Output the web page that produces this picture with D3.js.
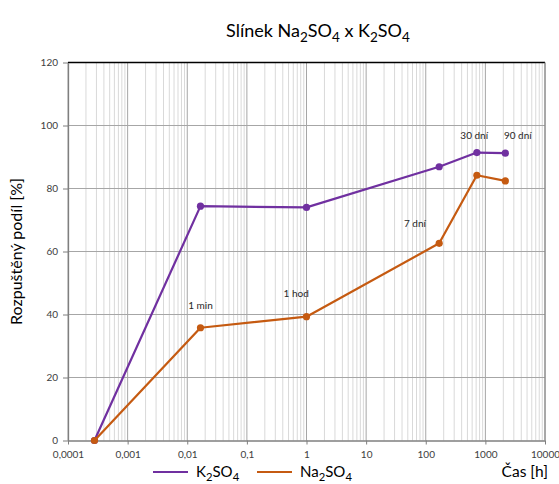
<!DOCTYPE html>
<html>
<head>
<meta charset="utf-8">
<script src="https://cdn.jsdelivr.net/npm/d3@7"></script>
<style>
  body { margin: 0; background: #fff; }
  svg { font-family: Lato, "Open Sans", sans-serif; }
</style>
</head>
<body>
<svg id="chart" width="559" height="484"></svg>
<script>
// time in hours: 1 s, 1 min, 1 h, 7 days, 30 days, 90 days
const hours = [1 / 3600, 1 / 60, 1, 168, 720, 2160]
const k2so4 = [0, 74.4, 74.0, 86.9, 91.4, 91.2]
const na2so4 = [0, 35.8, 39.3, 62.6, 84.2, 82.4]
const xTicks = [0.0001, 0.001, 0.01, 0.1, 1, 10, 100, 1000, 10000]
const xTickLabels = ['0,0001', '0,001', '0,01', '0,1', '1', '10', '100', '1000', '10000']
const yTicks = [0, 20, 40, 60, 80, 100, 120]
const notes = [
    { text: '1 min', t: 1 / 60, v: 42.5 },
    { text: '1 hod', t: 0.67, v: 46.5 },
    { text: '7 dní', t: 66, v: 68.5 },
    { text: '30 dní', t: 650, v: 96.5 },
    { text: '90 dní', t: 3500, v: 96.5 }
]
const series = [
    { name: 'K2SO4', values: k2so4, color: '#7030a0' },
    { name: 'Na2SO4', values: na2so4, color: '#c55a11' }
]

const svg = d3.select('#chart')
const plotLeft = 68, plotRight = 545, plotTop = 62.5, plotBottom = 440.5
const x = d3.scaleLog().domain([1e-4, 1e4]).range([plotLeft, plotRight])
const y = d3.scaleLinear().domain([0, 120]).range([plotBottom, plotTop])

// write digits of formulas as subscripts
function formula(sel, str, size) {
    let shift = 0
    str.split(/(\d+)/).forEach(part => {
        if (part === '') return
        let sub = /^\d+$/.test(part)
        let target = sub ? size * 0.25 : 0
        sel.append('tspan')
            .attr('dy', target - shift)
            .attr('font-size', sub ? size * 0.75 : size)
            .text(part)
        shift = target
    })
}

// minor vertical grid
let minor = []
for (let e = -4; e < 4; e++) {
    for (let k = 2; k <= 9; k++) minor.push(k * Math.pow(10, e))
}
svg.append('g').selectAll('line').data(minor).join('line')
    .attr('x1', d => x(d)).attr('x2', d => x(d))
    .attr('y1', plotTop).attr('y2', plotBottom)
    .attr('stroke', '#d9d9d9').attr('stroke-width', 1)

svg.append('g').selectAll('line').data(xTicks).join('line')
    .attr('x1', d => x(d)).attr('x2', d => x(d))
    .attr('y1', plotTop).attr('y2', plotBottom)
    .attr('stroke', '#a6a6a6').attr('stroke-width', 1)

svg.append('g').selectAll('line').data(yTicks.slice(1)).join('line')
    .attr('x1', plotLeft).attr('x2', plotRight)
    .attr('y1', d => y(d)).attr('y2', d => y(d))
    .attr('stroke', '#a6a6a6').attr('stroke-width', 1)

// plot frame
svg.append('line').attr('x1', plotLeft).attr('x2', plotRight).attr('y1', plotTop).attr('y2', plotTop)
    .attr('stroke', '#000').attr('stroke-width', 1.3)
svg.append('line').attr('x1', plotRight).attr('x2', plotRight).attr('y1', plotTop).attr('y2', plotBottom)
    .attr('stroke', '#7f7f7f').attr('stroke-width', 1)

// axes
const xAxis = svg.append('g').attr('transform', `translate(0,${plotBottom})`)
    .call(d3.axisBottom(x).tickValues(xTicks).tickFormat((d, i) => xTickLabels[i]).tickSize(4).tickSizeOuter(0))
const yAxis = svg.append('g').attr('transform', `translate(${plotLeft},0)`)
    .call(d3.axisLeft(y).tickValues(yTicks).tickSize(5).tickSizeOuter(0))
;[xAxis, yAxis].forEach(a => {
    a.select('.domain').attr('stroke', '#7f7f7f').attr('stroke-width', 1.3)
    a.selectAll('.tick line').attr('stroke', '#7f7f7f')
    a.selectAll('.tick text').attr('fill', '#404040').attr('font-size', 10)
        .attr('font-family', 'Lato, "Open Sans", sans-serif')
})
xAxis.selectAll('.tick text').attr('dy', '1.05em')
yAxis.selectAll('.tick text').attr('dx', '-0.2em')

// lines and markers
const line = d3.line().x((d, i) => x(hours[i])).y(d => y(d))
series.forEach(s => {
    svg.append('path').datum(s.values)
        .attr('d', line)
        .attr('fill', 'none')
        .attr('stroke', s.color)
        .attr('stroke-width', 2.2)
        .attr('stroke-linejoin', 'round')
    svg.append('g').selectAll('circle').data(s.values).join('circle')
        .attr('cx', (d, i) => x(hours[i]))
        .attr('cy', d => y(d))
        .attr('r', 3.6)
        .attr('fill', s.color)
})

// annotations
svg.append('g').selectAll('text').data(notes).join('text')
    .attr('x', d => x(d.t)).attr('y', d => y(d.v))
    .attr('text-anchor', 'middle').attr('dominant-baseline', 'middle')
    .attr('font-size', 10).attr('fill', '#262626')
    .text(d => d.text)

// title
const title = svg.append('text').attr('x', 318).attr('y', 37)
    .attr('text-anchor', 'middle').attr('fill', '#000')
formula(title, 'Slínek Na2SO4 x K2SO4', 18)

// y axis title
svg.append('text')
    .attr('transform', `translate(22,${(plotTop + plotBottom) / 2}) rotate(-90)`)
    .attr('text-anchor', 'middle').attr('font-size', 16).attr('fill', '#000')
    .text('Rozpuštěný podíl [%]')

// x axis title
svg.append('text').attr('x', 548).attr('y', 477)
    .attr('text-anchor', 'end').attr('font-size', 15.5).attr('fill', '#000')
    .text('Čas [h]')

// legend
const legend = svg.append('g').selectAll('g').data(series).join('g')
    .attr('transform', (d, i) => `translate(${153 + i * 104},472)`)
legend.append('line').attr('x1', 0).attr('x2', 35).attr('y1', 0).attr('y2', 0)
    .attr('stroke', d => d.color).attr('stroke-width', 2.2)
legend.append('text').attr('x', 43).attr('y', 5)
    .each(function (d) { formula(d3.select(this), d.name, 15) })
</script>
</body>
</html>
